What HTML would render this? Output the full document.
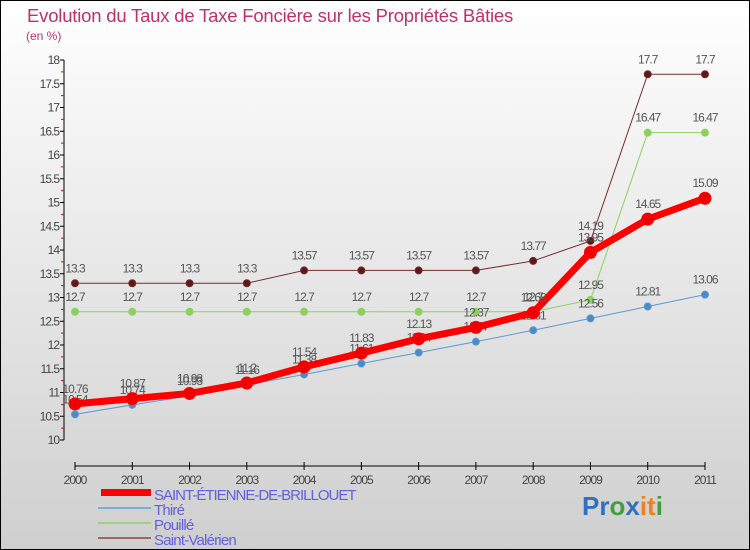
<!DOCTYPE html>
<html><head><meta charset="utf-8"><style>
body{margin:0}
#c{width:750px;height:550px;position:relative;box-sizing:border-box;border:1px solid #000;background:linear-gradient(#ffffff,#cfcfcf);font-family:"Liberation Sans",sans-serif;overflow:hidden}
</style></head><body>
<div id="c">
<svg id="s" width="750" height="550" style="position:absolute;left:-1px;top:-1px">
<text x="27" y="22" font-size="18.5" fill="#c0306a" letter-spacing="-0.2">Evolution du Taux de Taxe Foncière sur les Propriétés Bâties</text>
<text x="26" y="40" font-size="12" fill="#c0306a">(en %)</text>
<g id="ax"></g><g id="series"></g>
<g>
<rect x="101" y="489" width="50" height="7" fill="#f00"/>
<text x="154" y="500" font-size="15" fill="#6060e0" letter-spacing="-1">SAINT-ÉTIENNE-DE-BRILLOUET</text>
<line x1="98" y1="508" x2="151" y2="508" stroke="#7aaed6" stroke-width="2"/>
<text x="154" y="515" font-size="15" fill="#6060e0" letter-spacing="-0.8">Thiré</text>
<line x1="98" y1="523" x2="151" y2="523" stroke="#9ad47a" stroke-width="2"/>
<text x="154" y="530" font-size="15" fill="#6060e0" letter-spacing="-0.8">Pouillé</text>
<line x1="98" y1="538" x2="151" y2="538" stroke="#966" stroke-width="2"/>
<text x="154" y="545" font-size="15" fill="#6060e0" letter-spacing="-0.8">Saint-Valérien</text>
</g>
<text x="582" y="515" font-size="26" font-weight="bold"><tspan fill="#3070c0">Pr</tspan><tspan fill="#40a040">o</tspan><tspan fill="#3070c0">x</tspan><tspan fill="#f08020">it</tspan><tspan fill="#40a040">i</tspan></text>
</svg>
</div>
<script>
const years=[2000,2001,2002,2003,2004,2005,2006,2007,2008,2009,2010,2011];
const mainVals=[10.76,10.87,10.98,11.2,11.54,11.83,12.13,12.37,12.68,13.95,14.65,15.09];
const thireVals=[10.54,10.74,10.93,11.16,11.38,11.61,11.84,12.07,12.31,12.56,12.81,13.06];
const pouilleVals=[12.7,12.7,12.7,12.7,12.7,12.7,12.7,12.7,12.7,12.95,16.47,16.47];
const valerienVals=[13.3,13.3,13.3,13.3,13.57,13.57,13.57,13.57,13.77,14.19,17.7,17.7];
const yTicks=[10,10.5,11,11.5,12,12.5,13,13.5,14,14.5,15,15.5,16,16.5,17,17.5,18];
const NS="http://www.w3.org/2000/svg";
const X=i=>75+i*(630/11), Y=v=>440-(v-10)*47.5;
function mk(t,a,p){const e=document.createElementNS(NS,t);for(const k in a)e.setAttribute(k,a[k]);p.appendChild(e);return e;}
const ax=document.getElementById('ax');
let l=mk('line',{x1:64,y1:Y(18),x2:64,y2:Y(10),stroke:'#000'},ax);


l=mk('line',{x1:75,y1:466,x2:705,y2:466,stroke:'#000'},ax);


yTicks.forEach((v,i)=>{
 mk('line',{x1:60,y1:Y(v),x2:64,y2:Y(v),stroke:'#000'},ax);
 if(i<yTicks.length-1)mk('line',{x1:61,y1:Y(v+0.25),x2:64,y2:Y(v+0.25),stroke:'#e00'},ax);
 const t=mk('text',{x:59,y:Y(v)+4,'font-size':12,fill:'#444','text-anchor':'end','letter-spacing':'-1'},ax);
 t.textContent=String(v);
 
 
});
years.forEach((y,i)=>{
 mk('line',{x1:X(i),y1:462,x2:X(i),y2:470,stroke:'#000'},ax);
 const t=mk('text',{x:X(i),y:465+19,'font-size':12,fill:'#444','text-anchor':'middle','letter-spacing':'-1'},ax);
 t.textContent=String(y);
 
 
});
const sg=document.getElementById('series');
function series(vals,color,w,r,dot,name){
 const g=mk('g',{},sg);
 
 
 mk('polyline',{points:vals.map((v,i)=>X(i)+','+Y(v)).join(' '),fill:'none',stroke:color,'stroke-width':w},g);
 vals.forEach((v,i)=>{
  const c=mk('circle',{cx:X(i),cy:Y(v),r:r,fill:dot,stroke:color,'stroke-width':1},g);
  
  
  const t=mk('text',{x:X(i),y:Y(v)-11,'font-size':12,fill:'#555','text-anchor':'middle','letter-spacing':'-1'},g);
  t.textContent=String(v);
  
  
 });
}
series(valerienVals,'#7a2a2a',1,3.5,'#5a1a1a','saint-valerien-line');
series(pouilleVals,'#8ed060',1,3.5,'#8ed060','pouille-line');
series(thireVals,'#5a9ad0',1,3.5,'#4a8ac8','thire-line');
series(mainVals,'#f00',7,6,'#e00','saint-etienne-line');
</script>
</body></html>
